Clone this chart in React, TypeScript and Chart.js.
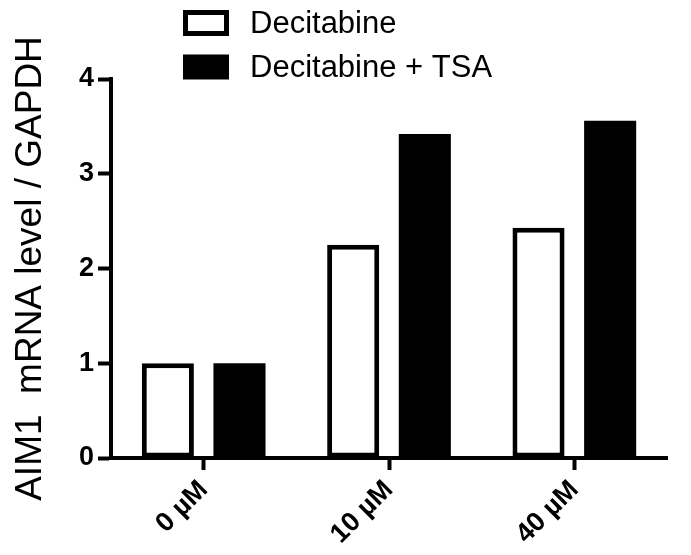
import { useEffect, useRef } from "react";
import { Chart, registerables } from "chart.js";

Chart.register(...registerables);

const categories = ["0 µM", "10 µM", "40 µM"];
const seriesLabels = ["Decitabine", "Decitabine + TSA"];
const decitabine = [1.0, 2.25, 2.43];
const decitabineTSA = [1.0, 3.42, 3.56];
const yTickValues = [0, 1, 2, 3, 4];
const yTitle = "AIM1  mRNA level / GAPDH";

const FONT = "'Liberation Sans', Arial, Helvetica, sans-serif";

const legendPlugin = {
  id: "customLegend",
  afterDraw(chart: any) {
    const ctx = chart.ctx;
    ctx.save();
    chart.data.datasets.forEach((ds: any, i: number) => {
      const cy = 23 + i * 44;
      if (i === 0) {
        ctx.lineWidth = 5;
        ctx.strokeStyle = "#000";
        ctx.fillStyle = "#fff";
        ctx.fillRect(185.5, cy - 10.5, 41, 21);
        ctx.strokeRect(185.5, cy - 10.5, 41, 21);
      } else {
        ctx.fillStyle = "#000";
        ctx.fillRect(183, cy - 12.5, 46, 25);
      }
      ctx.fillStyle = "#000";
      ctx.font = `31px ${FONT}`;
      ctx.textBaseline = "middle";
      ctx.textAlign = "left";
      ctx.fillText(ds.label, 250, cy + 1);
    });
    ctx.restore();
  },
};

export default function App() {
  const ref = useRef<HTMLCanvasElement | null>(null);
  useEffect(() => {
    document.body.style.margin = "0";
    const canvas = ref.current;
    if (!canvas) return;
    const chart = new Chart(canvas, {
      type: "bar",
      data: {
        labels: categories,
        datasets: [
          {
            label: seriesLabels[0],
            data: decitabine,
            backgroundColor: "#ffffff",
            borderColor: "#000000",
            borderWidth: 5,
            borderSkipped: false,
            categoryPercentage: 0.773,
            barPercentage: 0.727,
          },
          {
            label: seriesLabels[1],
            data: decitabineTSA,
            backgroundColor: "#000000",
            borderColor: "#000000",
            borderWidth: 0,
            categoryPercentage: 0.773,
            barPercentage: 0.727,
          },
        ],
      },
      options: {
        animation: false,
        responsive: true,
        maintainAspectRatio: false,
        layout: { padding: { top: 79, right: 24, left: 0, bottom: 0 } },
        plugins: {
          legend: { display: false },
          tooltip: { enabled: false },
        },
        scales: {
          x: {
            offset: true,
            grid: {
              display: true,
              drawOnChartArea: false,
              drawTicks: true,
              tickLength: 12,
              tickWidth: 4,
              tickColor: "#000",
              offset: false,
            },
            border: { display: true, width: 4, color: "#000" },
            ticks: {
              color: "#000",
              maxRotation: 45,
              minRotation: 45,
              padding: 4,
              font: { family: FONT, size: 27, weight: "bold" },
            },
            afterFit(s: any) {
              s.height = 97;
            },
          },
          y: {
            min: 0,
            max: 4,
            afterBuildTicks(s: any) {
              s.ticks = yTickValues.map((v) => ({ value: v }));
            },
            grid: {
              display: true,
              drawOnChartArea: false,
              drawTicks: true,
              tickLength: 13,
              tickWidth: 4,
              tickColor: "#000",
            },
            border: { display: true, width: 4, color: "#000" },
            ticks: {
              color: "#000",
              padding: 4,
              font: { family: FONT, size: 27, weight: "bold" },
            },
            title: {
              display: true,
              text: yTitle,
              color: "#000",
              font: { family: FONT, size: 37 },
              padding: { top: 9, bottom: 0 },
            },
            afterFit(s: any) {
              s.width = 111;
            },
          },
        },
      },
      plugins: [legendPlugin],
    });
    return () => chart.destroy();
  }, []);
  return (
    <div style={{ width: 691, height: 555, position: "relative" }}>
      <canvas ref={ref} />
    </div>
  );
}
